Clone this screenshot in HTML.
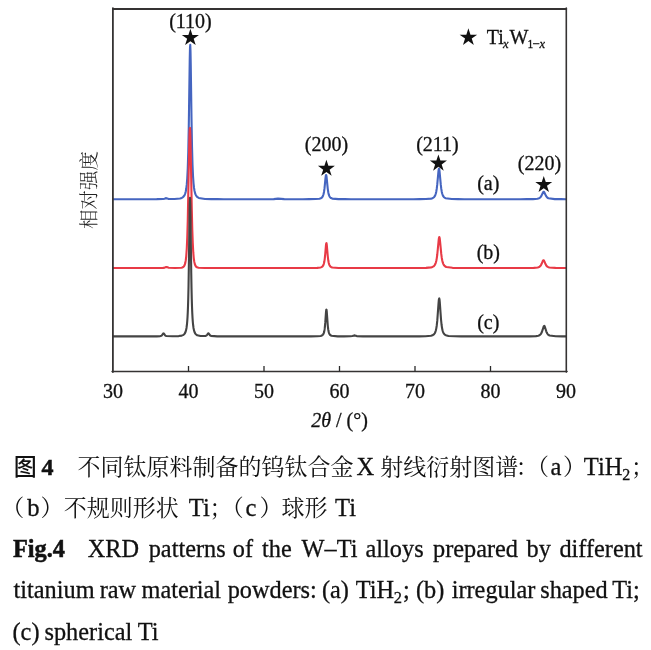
<!DOCTYPE html>
<html><head><meta charset="utf-8"><title>XRD patterns of W–Ti alloys</title><style>
html,body{margin:0;padding:0;background:#fff;}
body{width:651px;height:650px;overflow:hidden;position:relative;}
svg{display:block;}
</style></head><body>
<svg width="651" height="440" viewBox="0 0 651 440" style="position:absolute;left:0;top:0">
<g fill="none" stroke-linejoin="round" stroke-linecap="round">
<polyline points="113.00,199.20 119.25,199.20 125.50,199.20 131.75,199.20 138.00,199.19 144.25,199.19 150.50,199.18 156.75,199.17 163.00,199.00 164.50,198.65 165.75,198.17 166.25,198.16 168.25,198.84 174.50,198.97 180.00,198.44 181.75,197.88 182.75,197.32 183.50,196.66 184.25,195.66 184.75,194.70 185.25,193.37 185.75,191.49 186.25,188.76 186.75,184.66 187.25,178.37 187.75,168.45 188.25,152.64 188.75,128.05 189.75,58.59 190.00,47.54 190.25,44.79 190.50,51.09 190.75,64.74 191.50,118.67 192.00,146.31 192.50,164.45 193.00,175.86 193.50,183.06 194.00,187.70 194.50,190.78 195.00,192.88 195.50,194.35 196.00,195.41 196.75,196.49 197.50,197.20 198.75,197.93 205.00,198.94 211.25,199.11 217.50,199.16 223.75,199.18 230.00,199.19 236.25,199.19 242.50,199.19 248.75,199.19 255.00,199.20 261.25,199.19 267.50,199.19 273.75,199.11 278.00,198.60 284.25,199.16 290.50,199.19 296.75,199.19 303.00,199.19 309.25,199.17 315.50,199.07 319.50,198.69 320.75,198.30 321.50,197.86 322.00,197.41 322.50,196.75 323.00,195.76 323.50,194.25 324.00,191.91 324.50,188.38 325.50,178.15 325.75,176.10 326.00,175.00 326.25,175.13 326.50,176.44 327.75,188.80 328.25,192.19 328.75,194.43 329.25,195.88 329.75,196.83 330.25,197.46 331.00,198.06 332.25,198.58 338.50,199.12 344.75,199.17 351.00,199.19 357.25,199.19 363.50,199.20 369.75,199.20 376.00,199.20 382.25,199.20 388.50,199.20 394.75,199.20 401.00,199.19 407.25,199.19 413.50,199.18 419.75,199.15 426.00,199.05 431.00,198.62 432.50,198.17 433.50,197.60 434.25,196.89 434.75,196.18 435.25,195.18 435.75,193.74 436.25,191.65 436.75,188.65 437.25,184.44 438.50,170.89 438.75,169.27 439.00,168.70 439.25,169.27 439.50,170.89 440.75,184.44 441.25,188.65 441.75,191.65 442.25,193.74 442.75,195.18 443.25,196.18 443.75,196.89 444.50,197.60 445.50,198.17 451.75,199.05 458.00,199.15 464.25,199.18 470.50,199.19 476.75,199.19 483.00,199.20 489.25,199.20 495.50,199.20 501.75,199.20 508.00,199.20 514.25,199.19 520.50,199.19 526.75,199.17 533.00,199.09 537.50,198.71 539.00,198.25 539.75,197.83 540.50,197.16 541.25,196.13 543.00,192.47 543.25,192.09 543.50,191.86 543.75,191.80 544.00,191.93 544.25,192.23 546.00,195.87 546.75,196.99 547.50,197.72 548.50,198.30 554.75,199.10 561.00,199.17 566.00,199.19" stroke="#4565c0" stroke-width="2.1"/>
<polyline points="113.00,268.00 119.25,268.00 125.50,268.00 131.75,268.00 138.00,268.00 144.25,268.00 150.50,268.00 156.75,267.99 163.00,267.88 164.75,267.59 166.25,267.02 166.75,267.02 168.75,267.72 175.00,267.98 181.25,267.74 182.50,267.42 183.25,267.01 183.75,266.57 184.25,265.88 184.75,264.81 185.25,263.12 185.75,260.40 186.25,256.02 186.75,248.97 187.25,237.86 187.75,221.07 189.25,143.22 189.50,133.75 189.75,128.40 190.00,127.90 190.25,132.32 190.50,141.04 191.75,207.84 192.25,228.56 192.75,242.90 193.25,252.19 193.75,258.03 194.25,261.64 194.75,263.89 195.25,265.30 195.75,266.19 196.25,266.77 197.00,267.28 198.50,267.73 204.75,267.99 211.00,268.00 217.25,268.00 223.50,268.00 229.75,268.00 236.00,268.00 242.25,268.00 248.50,268.00 254.75,268.00 261.00,268.00 267.25,268.00 273.50,268.00 279.75,268.00 286.00,268.00 292.25,268.00 298.50,267.99 304.75,267.99 311.00,267.97 317.25,267.85 320.50,267.47 321.50,267.12 322.25,266.65 322.75,266.13 323.25,265.34 323.75,264.08 324.25,262.06 324.75,258.79 325.25,253.82 326.00,244.95 326.25,243.29 326.50,243.13 326.75,244.52 327.75,256.02 328.25,260.28 328.75,262.99 329.25,264.66 329.75,265.70 330.25,266.36 331.00,266.96 332.25,267.46 338.50,267.93 344.75,267.98 351.00,267.99 357.25,268.00 363.50,268.00 369.75,268.00 376.00,268.00 382.25,268.00 388.50,268.00 394.75,268.00 401.00,267.99 407.25,267.99 413.50,267.98 419.75,267.95 426.00,267.84 431.00,267.37 432.50,266.92 433.50,266.36 434.25,265.68 434.75,265.01 435.25,264.09 435.75,262.79 436.25,260.96 436.75,258.36 437.25,254.74 438.75,239.39 439.00,237.74 439.25,237.02 439.50,237.33 439.75,238.63 440.25,243.30 441.25,253.88 441.75,257.73 442.25,260.51 442.75,262.48 443.25,263.86 443.75,264.85 444.25,265.56 445.00,266.29 446.25,266.98 452.50,267.83 458.75,267.95 465.00,267.98 471.25,267.99 477.50,267.99 483.75,267.99 490.00,268.00 496.25,268.00 502.50,268.00 508.75,268.00 515.00,267.99 521.25,267.99 527.50,267.97 533.75,267.86 537.75,267.45 539.00,267.01 539.75,266.55 540.50,265.79 541.00,265.06 541.75,263.53 542.75,261.08 543.00,260.61 543.25,260.31 543.50,260.20 543.75,260.31 544.00,260.61 544.50,261.65 545.50,264.10 546.25,265.46 547.00,266.33 547.75,266.88 549.25,267.45 555.50,267.92 561.75,267.98 566.00,267.99" stroke="#e83a46" stroke-width="2.1"/>
<polyline points="113.00,336.40 119.25,336.40 125.50,336.40 131.75,336.40 138.00,336.40 144.25,336.39 150.50,336.39 156.75,336.35 160.25,336.11 161.00,335.89 161.50,335.62 162.00,335.18 163.00,333.75 163.25,333.48 163.50,333.37 163.75,333.48 165.00,335.17 165.50,335.61 166.25,335.97 172.50,336.30 178.75,336.08 181.75,335.60 183.00,335.12 183.75,334.64 184.50,333.87 185.00,333.11 185.50,332.01 186.00,330.40 186.50,327.92 187.00,324.00 187.25,321.18 187.50,317.52 187.75,312.74 188.00,306.46 188.25,298.20 188.50,287.41 189.00,256.59 189.50,218.13 189.75,203.47 190.00,197.90 190.25,203.47 190.50,218.13 191.25,273.58 191.50,287.41 191.75,298.20 192.00,306.46 192.25,312.74 192.50,317.52 192.75,321.18 193.00,324.00 193.50,327.92 194.00,330.39 194.50,332.01 195.00,333.11 195.50,333.87 196.25,334.63 197.25,335.24 200.50,335.98 204.75,336.05 205.75,335.85 206.25,335.63 206.75,335.26 207.25,334.67 208.00,333.57 208.25,333.36 208.50,333.34 208.75,333.53 209.75,334.97 210.25,335.48 211.00,335.90 217.25,336.36 223.50,336.38 229.75,336.39 236.00,336.39 242.25,336.40 248.50,336.40 254.75,336.40 261.00,336.40 267.25,336.40 273.50,336.40 279.75,336.40 286.00,336.40 292.25,336.40 298.50,336.40 304.75,336.39 311.00,336.37 317.25,336.28 320.75,335.94 321.75,335.62 322.50,335.15 323.00,334.62 323.50,333.78 323.75,333.17 324.00,332.38 324.25,331.34 324.50,329.97 324.75,328.18 325.25,322.90 326.00,312.04 326.25,309.80 326.50,309.58 326.75,311.46 327.75,325.31 328.00,327.76 328.25,329.65 328.50,331.09 328.75,332.19 329.00,333.03 329.50,334.17 330.00,334.86 330.50,335.30 331.50,335.79 337.75,336.34 344.00,336.38 350.25,336.32 352.50,336.05 354.25,335.42 354.75,335.42 356.75,336.11 363.00,336.39 369.25,336.40 375.50,336.40 381.75,336.40 388.00,336.40 394.25,336.40 400.50,336.39 406.75,336.39 413.00,336.38 419.25,336.35 425.50,336.26 431.00,335.78 432.50,335.31 433.50,334.72 434.25,333.99 434.75,333.26 435.25,332.23 435.75,330.76 436.25,328.62 436.75,325.47 437.25,320.93 438.50,303.72 438.75,300.76 439.00,298.89 439.25,298.43 439.50,299.48 439.75,301.84 441.00,319.24 441.50,324.27 442.00,327.79 442.50,330.20 443.00,331.85 443.50,332.99 444.00,333.80 444.75,334.60 445.75,335.24 448.50,335.96 454.75,336.30 461.00,336.36 467.25,336.38 473.50,336.39 479.75,336.39 486.00,336.40 492.25,336.40 498.50,336.40 504.75,336.40 511.00,336.39 517.25,336.39 523.50,336.38 529.75,336.34 536.00,336.11 538.25,335.72 539.50,335.20 540.25,334.64 540.75,334.09 541.25,333.35 541.75,332.33 542.50,330.22 543.50,326.94 543.75,326.35 544.00,325.99 544.25,325.91 544.50,326.10 544.75,326.56 546.25,331.29 546.75,332.56 547.25,333.51 547.75,334.22 548.50,334.93 549.50,335.49 555.75,336.29 562.00,336.37 566.00,336.38" stroke="#444444" stroke-width="2.1"/>
</g>
<g stroke="#353333" fill="none" stroke-linecap="round">
<path d="M112.9,9 H566.3" stroke-width="1.8"/>
<path d="M112.9,8.1 V372.1" stroke-width="1.8"/>
<path d="M566.3,8.1 V372.1" stroke-width="1.6"/>
<path d="M112,371.5 H567.1" stroke-width="1.4"/>
</g>
<g stroke="#2a2a2a" stroke-width="1.3"><line x1="188.50" y1="371.5" x2="188.50" y2="366" /><line x1="264.00" y1="371.5" x2="264.00" y2="366" /><line x1="339.50" y1="371.5" x2="339.50" y2="366" /><line x1="415.00" y1="371.5" x2="415.00" y2="366" /><line x1="490.50" y1="371.5" x2="490.50" y2="366" /></g>
<polygon points="190.40,28.80 192.42,35.02 198.96,35.02 193.67,38.86 195.69,45.08 190.40,41.24 185.11,45.08 187.13,38.86 181.84,35.02 188.38,35.02" fill="#111"/>
<polygon points="326.40,159.70 328.40,165.85 334.86,165.85 329.63,169.65 331.63,175.80 326.40,172.00 321.17,175.80 323.17,169.65 317.94,165.85 324.40,165.85" fill="#111"/>
<polygon points="438.40,154.40 440.42,160.62 446.96,160.62 441.67,164.46 443.69,170.68 438.40,166.84 433.11,170.68 435.13,164.46 429.84,160.62 436.38,160.62" fill="#111"/>
<polygon points="543.75,175.90 545.75,182.05 552.21,182.05 546.98,185.85 548.98,192.00 543.75,188.20 538.52,192.00 540.52,185.85 535.29,182.05 541.75,182.05" fill="#111"/>
<polygon points="468.40,28.30 470.47,34.66 477.15,34.66 471.74,38.59 473.81,44.94 468.40,41.01 462.99,44.94 465.06,38.59 459.65,34.66 466.33,34.66" fill="#111"/>
<g font-family="Liberation Serif, serif" font-size="20" fill="#111" stroke="#111" stroke-width="0.3">
<text x="190.5" y="28" text-anchor="middle">(110)</text>
<text x="326.5" y="151.1" text-anchor="middle">(200)</text>
<text x="437.5" y="151.0" text-anchor="middle">(211)</text>
<text x="539.4" y="169.6" text-anchor="middle">(220)</text>
<text x="488.3" y="189.9" text-anchor="middle">(a)</text>
<text x="488.3" y="258.8" text-anchor="middle">(b)</text>
<text x="488.3" y="329.3" text-anchor="middle">(c)</text>
<text y="43.7"><tspan x="486.74">Ti</tspan><tspan x="502.95" y="47.9" font-size="12.5" font-style="italic">x</tspan><tspan x="509.6" y="43.7">W</tspan><tspan x="527.6" y="47.9" font-size="11.5">1</tspan><tspan x="532.35" font-size="13">−</tspan><tspan x="539.55" font-size="12.5" font-style="italic">x</tspan></text>
<g text-anchor="middle">
<text x="113" y="397.5">30</text><text x="188.5" y="397.5">40</text><text x="264" y="397.5">50</text><text x="339.5" y="397.5">60</text><text x="415" y="397.5">70</text><text x="490.5" y="397.5">80</text><text x="566" y="397.5">90</text>
</g>
<text x="339.5" y="426.8" text-anchor="middle"><tspan font-style="italic">2θ</tspan> / (°)</text>
</g>
<text transform="translate(95.7,189.9) rotate(-90)" text-anchor="middle" font-family="Noto Serif CJK SC, serif" font-weight="300" font-size="19.5" fill="#222">相对强度</text>
</svg>
<svg width="651" height="210" viewBox="0 440 651 210" style="position:absolute;left:0;top:440px" fill="#111">
<text x="13.74" y="475.0" font-family="Noto Sans CJK SC, sans-serif" font-size="23" font-weight="500">图</text>
<text x="41.57" y="475.0" font-family="Liberation Serif, serif" font-size="24" font-weight="700" stroke="#111" stroke-width="0.5">4</text>
<text x="77.39" y="475.0" font-family="Liberation Serif, Noto Serif CJK SC, serif" font-size="23">不同钛原料制备的钨钛合金</text>
<text x="356.56" y="475.0" font-family="Liberation Serif, serif" font-size="24.5" stroke="#111" stroke-width="0.3">X</text>
<text x="380.30" y="475.0" font-family="Liberation Serif, Noto Serif CJK SC, serif" font-size="23">射线衍射图谱</text>
<text x="515.69" y="475.0" font-family="Liberation Serif, Noto Serif CJK SC, serif" font-size="23">：</text>
<text x="525.93" y="475.0" font-family="Liberation Serif, Noto Serif CJK SC, serif" font-size="23">（</text>
<text x="550.44" y="475.0" font-family="Liberation Serif, serif" font-size="24.5" stroke="#111" stroke-width="0.3">a</text>
<text x="563.05" y="475.0" font-family="Liberation Serif, Noto Serif CJK SC, serif" font-size="23">）</text>
<text x="583.86" y="475.0" font-family="Liberation Serif, serif" font-size="24.5" stroke="#111" stroke-width="0.3">TiH</text>
<text x="622.20" y="479.5" font-family="Liberation Serif, serif" font-size="16" stroke="#111" stroke-width="0.3">2</text>
<text x="630.94" y="475.0" font-family="Liberation Serif, Noto Serif CJK SC, serif" font-size="23">；</text>
<text x="1.13" y="515.6" font-family="Liberation Serif, Noto Serif CJK SC, serif" font-size="23">（</text>
<text x="27.20" y="515.6" font-family="Liberation Serif, serif" font-size="24.6" stroke="#111" stroke-width="0.3">b</text>
<text x="40.55" y="515.6" font-family="Liberation Serif, Noto Serif CJK SC, serif" font-size="23">）</text>
<text x="63.70" y="515.6" font-family="Liberation Serif, Noto Serif CJK SC, serif" font-size="23">不规则形状</text>
<text x="188.76" y="515.6" font-family="Liberation Serif, serif" font-size="24.6" stroke="#111" stroke-width="0.3">Ti</text>
<text x="209.44" y="515.6" font-family="Liberation Serif, Noto Serif CJK SC, serif" font-size="23">；</text>
<text x="220.63" y="515.6" font-family="Liberation Serif, Noto Serif CJK SC, serif" font-size="23">（</text>
<text x="245.56" y="515.6" font-family="Liberation Serif, serif" font-size="24.6" stroke="#111" stroke-width="0.3">c</text>
<text x="259.55" y="515.6" font-family="Liberation Serif, Noto Serif CJK SC, serif" font-size="23">）</text>
<text x="281.61" y="515.6" font-family="Liberation Serif, Noto Serif CJK SC, serif" font-size="23">球形</text>
<text x="335.06" y="515.6" font-family="Liberation Serif, serif" font-size="24.6" stroke="#111" stroke-width="0.3">Ti</text>
</svg><svg width="651" height="130" viewBox="0 530 651 130" style="position:absolute;left:0;top:530px" font-family="Liberation Serif, serif" font-size="24.3" fill="#111" stroke="#111" stroke-width="0.3">
<text x="13.04" y="556.9" font-weight="700" stroke-width="0.5">Fig.4</text>
<text x="87.77" y="556.9">XRD</text>
<text x="148.71" y="556.9">patterns</text>
<text x="232.77" y="556.9">of</text>
<text x="262.06" y="556.9">the</text>
<text x="301.58" y="556.9">W–Ti</text>
<text x="365.55" y="556.9">alloys</text>
<text x="433.01" y="556.9">prepared</text>
<text x="526.60" y="556.9">by</text>
<text x="559.42" y="556.9">different</text>
<text x="13.56" y="597.6">titanium</text>
<text x="99.71" y="597.6">raw</text>
<text x="141.49" y="597.6">material</text>
<text x="227.71" y="597.6">powders:</text>
<text x="321.93" y="597.6">(a)</text>
<text x="355.86" y="597.6">TiH<tspan x="393.8" dy="5.8" font-size="16.5">2</tspan><tspan x="402.9" dy="-5.8">;</tspan></text>
<text x="415.93" y="597.6">(b)</text>
<text x="451.69" y="597.6">irregular</text>
<text x="540.20" y="597.6">shaped</text>
<text x="612.16" y="597.6">Ti;</text>
<text x="12.53" y="639.5">(c)</text>
<text x="44.50" y="639.5">spherical</text>
<text x="137.86" y="639.5">Ti</text>
</svg>
</body></html>
